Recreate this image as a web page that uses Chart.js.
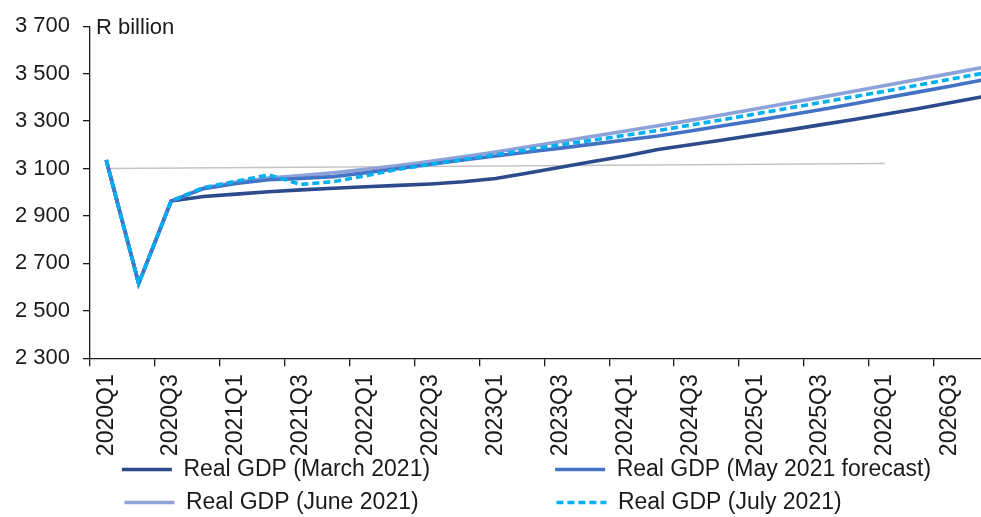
<!DOCTYPE html>
<html>
<head>
<meta charset="utf-8">
<script src="https://cdn.jsdelivr.net/npm/chart.js@4.4.1/dist/chart.umd.min.js"></script>
<style>
  html, body { margin: 0; padding: 0; background: #ffffff; overflow: hidden; }
  #wrap { position: relative; width: 1000px; height: 524px; }
</style>
</head>
<body>
<div id="wrap"><canvas id="gdp"></canvas></div>
<script>
// Quarterly categories
const quarters = [
  '2020Q1','2020Q2','2020Q3','2020Q4',
  '2021Q1','2021Q2','2021Q3','2021Q4',
  '2022Q1','2022Q2','2022Q3','2022Q4',
  '2023Q1','2023Q2','2023Q3','2023Q4',
  '2024Q1','2024Q2','2024Q3','2024Q4',
  '2025Q1','2025Q2','2025Q3','2025Q4',
  '2026Q1','2026Q2','2026Q3','2026Q4'
];

// Real GDP paths, R billion
const gdpMarch2021 = [
  3136, 2615, 2963, 2982, 2992, 3002, 3010, 3017,
  3023, 3029, 3035, 3044, 3058, 3081, 3105, 3130,
  3153, 3180, 3200, 3220, 3241, 3262, 3284, 3306,
  3329, 3352, 3377, 3403
];
const gdpMay2021 = [
  3136, 2615, 2963, 3015, 3037, 3053, 3058, 3066,
  3082, 3100, 3118, 3136, 3153, 3170, 3186, 3203,
  3220, 3237, 3258, 3280, 3302, 3325, 3348, 3372,
  3397, 3422, 3447, 3473
];
const gdpJune2021 = [
  3136, 2615, 2963, 3018, 3042, 3060, 3070, 3082,
  3097, 3113, 3131, 3150, 3170, 3192, 3214, 3236,
  3258, 3280, 3303, 3327, 3351, 3375, 3400, 3425,
  3450, 3475, 3500, 3526
];
const gdpJuly2021 = [
  3136, 2615, 2963, 3020, 3046, 3073, 3033, 3045,
  3070, 3097, 3118, 3138, 3158, 3180, 3200, 3220,
  3240, 3260, 3283, 3306, 3330, 3354, 3378, 3402,
  3426, 3451, 3476, 3501
];

// Thin grey reference line (start and end)
const referenceQuarters = ['2020Q1', '2026Q1'];
const referenceLevels = [3100, 3121];

// Value axis range and step
const yRange = [2300, 3700];
const yStep = 200;

const FONT = "'Liberation Sans', Arial, sans-serif";
const INK = '#1a1a1a';
Chart.defaults.font.family = FONT;
Chart.defaults.color = INK;

const fmtThousands = v => String(v).replace(/\B(?=(\d{3})+(?!\d))/g, ' ');

// Trailing spaces keep the legend in two even columns
const legendColumnText = [363, 374];

const unitLabel = {
  id: 'unitLabel',
  afterDraw(chart) {
    const { ctx, chartArea } = chart;
    ctx.save();
    ctx.font = '22px ' + FONT;
    ctx.fillStyle = INK;
    ctx.textBaseline = 'alphabetic';
    ctx.fillText('R billion', chartArea.left + 6, chartArea.top + 8);
    ctx.restore();
  }
};

const lineBase = { pointRadius: 0, pointHoverRadius: 0, borderWidth: 3.6, tension: 0, fill: false };

new Chart(document.getElementById('gdp'), {
  type: 'line',
  data: {
    labels: quarters,
    datasets: [
      { ...lineBase, label: 'Real GDP (March 2021)', data: gdpMarch2021, borderColor: '#2D4B8C', backgroundColor: '#2D4B8C', order: 3 },
      { ...lineBase, label: 'Real GDP (May 2021 forecast)', data: gdpMay2021, borderColor: '#4472C4', backgroundColor: '#4472C4', order: 1 },
      { ...lineBase, label: 'Real GDP (June 2021)', data: gdpJune2021, borderColor: '#8EA2DA', backgroundColor: '#8EA2DA', order: 2 },
      { ...lineBase, label: 'Real GDP (July 2021)', data: gdpJuly2021, borderColor: '#00B0F0', backgroundColor: '#00B0F0', borderDash: [7, 4], order: 0 },
      { ...lineBase, label: 'reference', data: referenceQuarters.map((q, i) => ({ x: q, y: referenceLevels[i] })),
        borderColor: '#C4C4C4', backgroundColor: '#C4C4C4', borderWidth: 1.6, order: 9 }
    ]
  },
  options: {
    responsive: true,
    maintainAspectRatio: false,
    animation: false,
    layout: { padding: { left: 12, top: 23.3, right: 1.4, bottom: 0 } },
    plugins: {
      tooltip: { enabled: false },
      legend: {
        position: 'bottom',
        align: 'end',
        labels: {
          usePointStyle: true,
          pointStyle: 'line',
          pointStyleWidth: 50,
          boxHeight: 23,
          padding: 10,
          color: INK,
          font: { size: 23 },
          sort: (a, b) => a.datasetIndex - b.datasetIndex,
          generateLabels(chart) {
            const items = Chart.defaults.plugins.legend.labels.generateLabels(chart)
              .filter(it => it.datasetIndex < 4);
            const ctx = chart.ctx;
            ctx.save();
            ctx.font = '23px ' + FONT;
            items.forEach(it => {
              const ds = chart.data.datasets[it.datasetIndex];
              let t = it.text;
              const target = legendColumnText[it.datasetIndex % 2];
              while (ctx.measureText(t + ' ').width <= target) t += ' ';
              it.text = t;
              it.lineDash = ds.borderDash || [];
              it.lineWidth = ds.borderWidth;
            });
            ctx.restore();
            return items;
          }
        }
      }
    },
    scales: {
      x: {
        type: 'category',
        offset: true,
        grid: {
          display: true,
          drawOnChartArea: false,
          drawTicks: true,
          tickLength: 8,
          offset: true,
          lineWidth: 1.3,
          color: c => (c.index % 2 === 0 ? INK : 'rgba(0,0,0,0)')
        },
        border: { display: true, color: INK, width: 1.3 },
        ticks: {
          autoSkip: false,
          minRotation: 90,
          maxRotation: 90,
          padding: 8,
          color: INK,
          font: { size: 23 },
          callback: (v, i) => (i % 2 === 0 ? quarters[i] : '')
        },
        afterFit(scale) {
          scale.height = 89.7;
          scale.paddingLeft = 0;
          scale.paddingRight = 0;
          // let the rotated labels run slightly into the legend band
          scale._computeLabelArea = () => undefined;
        }
      },
      y: {
        min: yRange[0],
        max: yRange[1],
        grid: { display: true, drawOnChartArea: false, drawTicks: true, tickLength: 7, color: INK, lineWidth: 1.3 },
        border: { display: true, color: INK, width: 1.3 },
        ticks: {
          stepSize: yStep,
          padding: 13,
          color: INK,
          font: { size: 22 },
          callback: v => fmtThousands(v)
        },
        afterFit(scale) { scale.width = 78; }
      }
    }
  },
  plugins: [unitLabel]
});
</script>
</body>
</html>
